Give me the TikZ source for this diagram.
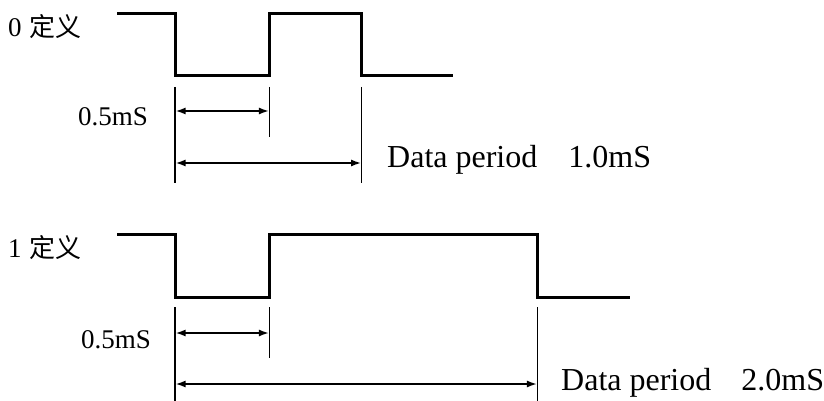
\documentclass[tikz,border=0pt]{standalone}
\usepackage{fontspec}
\setmainfont{Liberation Serif}
\newfontfamily\cjk{Noto Sans CJK SC}
\usetikzlibrary{arrows.meta}
\newcommand{\deflabel}[1]{{\fontsize{27}{30}\selectfont #1}\hspace{8pt}{\cjk\fontsize{26}{28}\selectfont 定义}}
\begin{document}
\begin{tikzpicture}[x=1pt,y=-1pt,
  wave/.style={line width=3pt, line join=miter, line cap=butt},
  ext/.style={line width=1.2pt},
  dim/.style={line width=1.6pt, {Latex[length=10pt,width=7pt]}-{Latex[length=10pt,width=7pt]}, shorten <=0.6pt, shorten >=0.6pt},
  lbl/.style={inner sep=0pt, anchor=base west},
  txt/.style={inner sep=0pt, anchor=base west},
  big/.style={inner sep=0pt, anchor=base west}]
\useasboundingbox (0,0) rectangle (824,401);

% ---------- "0" definition ----------
\node[lbl] (l0) at (8,36.5) {\deflabel{0}};
\coordinate (a0) at (117,13.5);
\coordinate (a1) at (175,13.5);
\coordinate (a2) at (175,76);
\coordinate (a3) at (269.5,76);
\coordinate (a4) at (269.5,13.5);
\coordinate (a5) at (361.7,13.5);
\coordinate (a6) at (361.7,76);
\coordinate (a7) at (453,76);
\draw[wave] (a0) -- (a1) -- (a2) -- (a3) -- (a4) -- (a5) -- (a6) -- (a7);

\coordinate (e1t) at (175,87);   \coordinate (e1b) at (175,183);
\coordinate (e2t) at (269.5,87); \coordinate (e2b) at (269.5,137);
\coordinate (e3t) at (361.7,87); \coordinate (e3b) at (361.7,183);
\draw[ext] (e1t) -- (e1b);
\draw[ext] (e2t) -- (e2b);
\draw[ext] (e3t) -- (e3b);

\coordinate (d1l) at (175,111);   \coordinate (d1r) at (269.5,111);
\coordinate (d2l) at (175,163);   \coordinate (d2r) at (361.7,163);
\draw[dim] (d1l) -- (d1r);
\draw[dim] (d2l) -- (d2r);

\node[txt] (h0) at (78,125) {\fontsize{27}{30}\selectfont 0.5mS};
\node[big] (p0) at (387,167) {\fontsize{32}{35}\selectfont Data period\hspace{31pt}1.0mS};

% ---------- "1" definition ----------
\node[lbl] (l1) at (8,257.5) {\deflabel{1}};
\coordinate (b0) at (117,234.5);
\coordinate (b1) at (175,234.5);
\coordinate (b2) at (175,297);
\coordinate (b3) at (269.5,297);
\coordinate (b4) at (269.5,234.5);
\coordinate (b5) at (537.5,234.5);
\coordinate (b6) at (537.5,297);
\coordinate (b7) at (630,297);
\draw[wave] (b0) -- (b1) -- (b2) -- (b3) -- (b4) -- (b5) -- (b6) -- (b7);

\coordinate (f1t) at (175,307);   \coordinate (f1b) at (175,401);
\coordinate (f2t) at (269.5,307); \coordinate (f2b) at (269.5,358);
\coordinate (f3t) at (537.5,307); \coordinate (f3b) at (537.5,401);
\draw[ext] (f1t) -- (f1b);
\draw[ext] (f2t) -- (f2b);
\draw[ext] (f3t) -- (f3b);

\coordinate (g1l) at (175,333);   \coordinate (g1r) at (269.5,333);
\coordinate (g2l) at (175,384);   \coordinate (g2r) at (537.5,384);
\draw[dim] (g1l) -- (g1r);
\draw[dim] (g2l) -- (g2r);

\node[txt] (h1) at (81,348) {\fontsize{27}{30}\selectfont 0.5mS};
\node[big] (p1) at (561,390) {\fontsize{32}{35}\selectfont Data period\hspace{30pt}2.0mS};
\end{tikzpicture}
\end{document}
